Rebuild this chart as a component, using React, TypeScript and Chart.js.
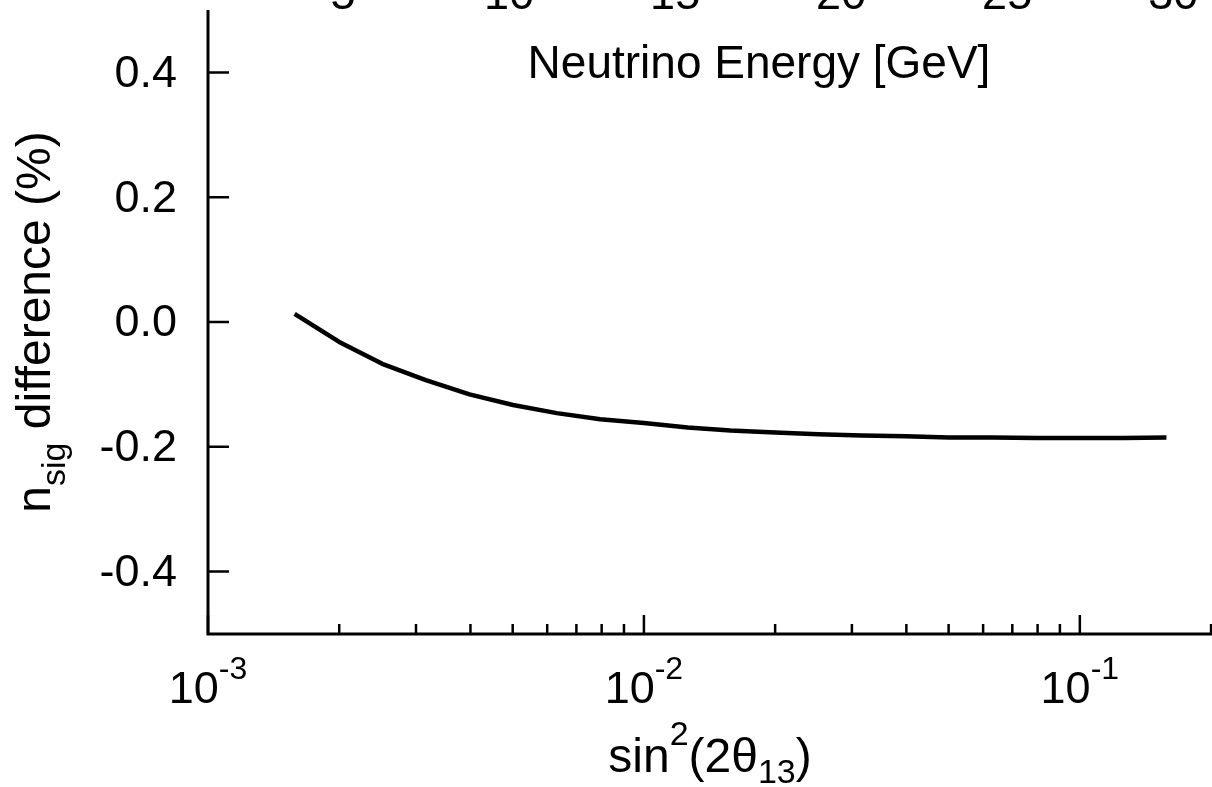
import React, { useEffect, useRef } from "react";
import { Chart, registerables } from "chart.js";

Chart.register(...registerables);

// sin^2(2θ13) sampling points and the signal-count difference (%)
const sin2Theta13 = [
  0.00158, 0.002, 0.00251, 0.00316, 0.00398, 0.00501, 0.00631, 0.00794, 0.01,
  0.0126, 0.0158, 0.02, 0.0251, 0.0316, 0.0398, 0.0501, 0.0631, 0.0794, 0.1,
  0.126, 0.158,
];
const nsigDifference = [
  0.013, -0.032, -0.067, -0.093, -0.116, -0.133, -0.146, -0.156, -0.162,
  -0.169, -0.174, -0.177, -0.18, -0.182, -0.183, -0.185, -0.185, -0.186,
  -0.186, -0.186, -0.185,
];

// Axis ticks
const xMajorTicks = [0.001, 0.01, 0.1];
const xMajorExponents = ["-3", "-2", "-1"];
const xMinorTicks = [
  0.002, 0.003, 0.004, 0.005, 0.006, 0.007, 0.008, 0.009,
  0.02, 0.03, 0.04, 0.05, 0.06, 0.07, 0.08, 0.09, 0.2,
];
const yTicks = [-0.4, -0.2, 0, 0.2, 0.4];
const yTickLabels = ["-0.4", "-0.2", "0.0", "0.2", "0.4"];
const energyTicks = [5, 10, 15, 20, 25, 30];
const energyTickLabels = ["5", "10", "15", "20", "25", "30"];

const FONT = '"Liberation Sans", Arial, Helvetica, sans-serif';
const BIG = 45;
const SMALL = 32;
const TITLE = 48;
const TITLE_SMALL = 34;

type Piece = { text: string; size: number; shift: number };

function drawPieces(
  ctx: CanvasRenderingContext2D,
  pieces: Piece[],
  cx: number,
  baseline: number
) {
  let total = 0;
  const widths = pieces.map((p) => {
    ctx.font = `${p.size}px ${FONT}`;
    const w = ctx.measureText(p.text).width;
    total += w;
    return w;
  });
  let x = cx - total / 2;
  ctx.textAlign = "left";
  ctx.textBaseline = "alphabetic";
  pieces.forEach((p, i) => {
    ctx.font = `${p.size}px ${FONT}`;
    ctx.fillText(p.text, x, baseline + p.shift);
    x += widths[i];
  });
}

const framePlugin = {
  id: "frameAxes",
  afterDraw(chart: any) {
    const { ctx, chartArea } = chart;
    const xs = chart.scales.x;
    const ys = chart.scales.y;
    const xt = chart.scales.xTop;
    const { left, right, top, bottom } = chartArea;
    ctx.save();
    ctx.strokeStyle = "#000";
    ctx.fillStyle = "#000";
    ctx.lineCap = "butt";

    // axis lines
    ctx.lineWidth = 3;
    ctx.beginPath();
    ctx.moveTo(left, top);
    ctx.lineTo(left, bottom + 1.5);
    ctx.moveTo(left - 1.5, bottom);
    ctx.lineTo(right, bottom);
    ctx.stroke();

    // y ticks (inward)
    ctx.lineWidth = 2.5;
    ctx.beginPath();
    yTicks.forEach((v) => {
      const py = ys.getPixelForValue(v);
      ctx.moveTo(left, py);
      ctx.lineTo(left + 21, py);
    });
    // x ticks (inward)
    xMajorTicks.forEach((v) => {
      const px = xs.getPixelForValue(v);
      ctx.moveTo(px, bottom);
      ctx.lineTo(px, bottom - 19);
    });
    xMinorTicks.forEach((v) => {
      const px = xs.getPixelForValue(v);
      ctx.moveTo(px, bottom);
      ctx.lineTo(px, bottom - 10);
    });
    ctx.stroke();

    // y tick labels
    ctx.font = `${BIG}px ${FONT}`;
    ctx.textAlign = "right";
    ctx.textBaseline = "middle";
    yTicks.forEach((v, i) => {
      ctx.fillText(yTickLabels[i], left - 31, ys.getPixelForValue(v) + 2);
    });

    // x tick labels 10^n
    xMajorTicks.forEach((v, i) => {
      drawPieces(
        ctx,
        [
          { text: "10", size: BIG, shift: 0 },
          { text: xMajorExponents[i], size: SMALL, shift: -24 },
        ],
        xs.getPixelForValue(v),
        bottom + 69
      );
    });

    // top energy scale labels
    ctx.font = `${BIG}px ${FONT}`;
    ctx.textAlign = "center";
    ctx.textBaseline = "alphabetic";
    energyTicks.forEach((v, i) => {
      ctx.fillText(energyTickLabels[i], xt.getPixelForValue(v), 9);
    });
    ctx.font = `46px ${FONT}`;
    ctx.fillText("Neutrino Energy [GeV]", 759, 78);

    // x axis title
    drawPieces(
      ctx,
      [
        { text: "sin", size: TITLE, shift: 0 },
        { text: "2", size: TITLE_SMALL, shift: -27 },
        { text: "(2θ", size: TITLE, shift: 0 },
        { text: "13", size: TITLE_SMALL, shift: 11 },
        { text: ")", size: TITLE, shift: 0 },
      ],
      (left + right) / 2,
      772
    );

    // y axis title, rotated
    ctx.translate(50, (top + bottom) / 2);
    ctx.rotate(-Math.PI / 2);
    drawPieces(
      ctx,
      [
        { text: "n", size: TITLE, shift: 0 },
        { text: "sig", size: TITLE_SMALL, shift: 15 },
        { text: " difference (%)", size: TITLE, shift: 0 },
      ],
      0,
      0
    );
    ctx.restore();
  },
};

export default function App() {
  const canvasRef = useRef<HTMLCanvasElement | null>(null);

  useEffect(() => {
    const canvas = canvasRef.current;
    if (!canvas) return;
    const chart = new Chart(canvas, {
      type: "line",
      data: {
        datasets: [
          {
            data: sin2Theta13.map((x, i) => ({ x, y: nsigDifference[i] })),
            borderColor: "#000",
            borderWidth: 4.5,
            pointRadius: 0,
            tension: 0,
            borderJoinStyle: "round",
            fill: false,
          },
        ],
      },
      options: {
        responsive: false,
        animation: false,
        devicePixelRatio: 1,
        layout: { padding: { left: 208, top: 10, right: 0, bottom: 153 } },
        plugins: {
          legend: { display: false },
          tooltip: { enabled: false },
          title: { display: false },
        },
        scales: {
          x: { type: "logarithmic", min: 0.001, max: 0.201, display: false },
          xTop: { type: "linear", position: "top", min: 0.93, max: 31.17, display: false },
          y: { type: "linear", min: -0.5, max: 0.5, display: false },
        },
      },
      plugins: [framePlugin],
    });
    return () => chart.destroy();
  }, []);

  return (
    <div
      style={{
        position: "absolute",
        left: 0,
        top: 0,
        width: 1212,
        height: 787,
        overflow: "hidden",
        background: "#fff",
      }}
    >
      <canvas ref={canvasRef} width={1212} height={787} style={{ display: "block" }} />
    </div>
  );
}
